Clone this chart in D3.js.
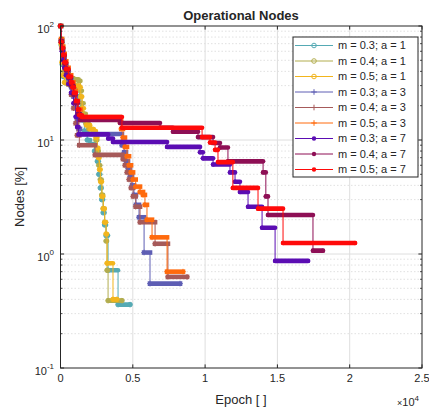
<!DOCTYPE html>
<html>
<head>
<meta charset="utf-8">
<script src="https://cdn.jsdelivr.net/npm/d3@7"></script>
<style>
body { margin: 0; background: #fff; }
text { font-family: "Liberation Sans", Arial, Helvetica, sans-serif; fill: #262626; }
</style>
</head>
<body>
<div id="container"></div>
<script>
let width = 429;
let height = 411;

// step points [epoch, nodes %]; every value holds until the next epoch, last point = end of run
let m03a1 = [[0,100],[50,68],[120,46],[200,36],[300,32],[500,31],[800,30],[1150,29],[1300,24],[1400,19],[1500,15],
    [1650,12],[1850,10],[2050,9.2],[2350,8],[2550,6.5],[2650,5],[2750,3.8],[2850,3],[2950,2.3],[3050,1.8],[3150,1.45],
    [3290,0.72],[3980,0.36],[4810,0.36]];
let m04a1 = [[0,100],[60,72],[140,50],[230,40],[330,36],[600,35],[900,34],[1250,33],[1380,27],[1480,21],[1600,17],
    [1750,14],[1950,12.5],[2250,11.5],[2450,10],[2550,8],[2650,6],[2750,4.5],[2850,3.3],[2950,2.5],[3050,1.9],[3150,1.3],
    [3220,0.72],[3290,0.39],[4250,0.39]];
let m05a1 = [[0,100],[40,70],[100,48],[180,37],[280,32],[500,31],[900,30],[1300,29],[1400,24],[1500,19],[1620,15.5],
    [1800,13.5],[2050,12.5],[2300,12],[2450,10.5],[2550,8.5],[2620,7],[2700,5.5],[2780,4.3],[2870,3.2],[2960,2.5],
    [3060,1.9],[3150,1.5],[3220,0.83],[3630,0.40],[3900,0.40]];
let m03a3 = [[0,100],[40,75],[110,63],[190,54],[290,46],[400,40],[560,34],[740,29],[900,24],[1050,19],[1150,15],
    [1250,12.5],[1350,11.3],[4250,9.0],[4400,7.8],[4530,6.5],[4670,5.6],[4810,4.8],[4950,4.0],[5080,3.3],[5220,2.7],
    [5430,2.1],[5780,1.03],[6190,0.55],[8265,0.55]];
let m04a3 = [[0,100],[40,74],[110,62],[190,52],[290,44],[400,38],[560,31],[740,25],[900,19],[1050,14],[1150,11],
    [1300,9.0],[2390,7.4],[4320,6.8],[4460,6.0],[4600,5.2],[4740,4.5],[4880,3.8],[5020,3.2],[5200,2.6],[5500,1.9],
    [6540,1.23],[7430,0.63],[8750,0.63]];
let m05a3 = [[0,100],[40,77],[110,66],[190,57],[290,49],[400,43],[560,37],[740,32],[900,27],[1050,22],[1200,18.5],
    [1400,15.9],[4115,14.5],[4200,12.5],[4320,10.5],[4460,8.7],[4600,7.2],[4740,6.0],[4880,5.2],[5020,4.5],[5200,3.9],
    [5500,3.5],[5710,3.3],[5840,2.7],[5980,2.0],[6330,1.4],[7370,0.70],[8470,0.70]];
let m03a7 = [[0,100],[35,72],[100,60],[170,50],[270,43],[380,37],[550,31],[730,26],[900,21],[1050,16],[1150,13],
    [1250,11.2],[3300,10.3],[3630,9.6],[7370,8.7],[9650,7.8],[9850,6.9],[10550,6.1],[11720,5.2],[12070,4.3],
    [12410,3.5],[12970,2.6],[13940,1.7],[14840,0.87],[17120,0.87]];
let m04a7 = [[0,100],[35,74],[100,64],[175,55],[280,47],[380,41],[550,35],[730,30],[900,25],[1050,21],[1200,17],
    [1350,15.0],[4115,14.1],[6880,12.8],[7780,11.8],[9510,10.6],[10550,9.4],[11030,8.6],[11580,6.5],[14010,5.2],
    [14200,3.2],[14350,2.2],[17460,1.07],[18150,1.07]];
let m05a7 = [[0,100],[35,72],[100,64],[173,56],[280,48],[380,42],[550,36],[726,32],[830,29],[934,26],[1070,22],
    [1210,18.5],[1300,16.5],[1490,15.9],[4250,12.8],[9790,10.6],[10340,9.5],[10690,8.2],[10890,6.4],[11920,3.8],
    [13660,2.5],[15390,1.25],[20370,1.25]];

let labels = ['m = 0.3; a = 1', 'm = 0.4; a = 1', 'm = 0.5; a = 1',
    'm = 0.3; a = 3', 'm = 0.4; a = 3', 'm = 0.5; a = 3',
    'm = 0.3; a = 7', 'm = 0.4; a = 7', 'm = 0.5; a = 7'];
let colors = ['#55aab4', '#b2ad4e', '#f2b51d', '#5e5eb4', '#a65a5a', '#ff6a0d', '#5b0db3', '#8e0f55', '#ff0a0a'];
let markers = ['o', 'o', 'o', '+', '+', '+', '.', '.', '.'];
let values = [m03a1, m04a1, m05a1, m03a3, m04a3, m05a3, m03a7, m04a7, m05a7];

let xTicks = [0, 5000, 10000, 15000, 20000, 25000];
let xTickLabels = ['0', '0.5', '1', '1.5', '2', '2.5'];
let yTicks = [0.1, 1, 10, 100];
let yTickExp = ['-1', '0', '1', '2'];

let series = values.map((v, i) => ({ values: v, label: labels[i], color: colors[i], marker: markers[i] }));

let svg = d3.select('#container')
    .append('svg')
    .attr('width', width)
    .attr('height', height);

let x = d3.scaleLinear().domain([0, 25000]).range([60.5, 422]);
let y = d3.scaleLog().domain([0.1, 100]).range([368, 26]);

// grid
let minor = y.ticks().filter(t => yTicks.indexOf(t) < 0);
svg.selectAll('.minorGrid')
    .data(minor)
    .enter()
    .append('line')
    .attr('x1', x(0)).attr('x2', x(25000))
    .attr('y1', d => y(d)).attr('y2', d => y(d))
    .attr('stroke', '#d9d9d9')
    .attr('stroke-width', 0.8)
    .attr('stroke-dasharray', '1.5,2');

svg.selectAll('.yGrid')
    .data(yTicks.slice(1, 3))
    .enter()
    .append('line')
    .attr('x1', x(0)).attr('x2', x(25000))
    .attr('y1', d => y(d)).attr('y2', d => y(d))
    .attr('stroke', '#dedede');

svg.selectAll('.xGrid')
    .data(xTicks.slice(1, 5))
    .enter()
    .append('line')
    .attr('x1', d => x(d)).attr('x2', d => x(d))
    .attr('y1', y(0.1)).attr('y2', y(100))
    .attr('stroke', '#dedede');

function drawMarker(g, type, color, px, py) {
    if (type == 'o') {
        g.append('circle').attr('cx', px).attr('cy', py).attr('r', 2.3)
            .attr('fill', 'none').attr('stroke', color).attr('stroke-width', 1);
    } else if (type == '+') {
        g.append('path').attr('d', `M${px - 2.8},${py}H${px + 2.8}M${px},${py - 2.8}V${py + 2.8}`)
            .attr('stroke', color).attr('stroke-width', 1);
    } else {
        g.append('circle').attr('cx', px).attr('cy', py).attr('r', 2.2).attr('fill', color);
    }
}

let line = d3.line()
    .x(d => x(d[0]))
    .y(d => y(d[1]))
    .curve(d3.curveStepAfter);

series.forEach(s => {
    let g = svg.append('g');
    g.append('path')
        .datum(s.values)
        .attr('d', line)
        .attr('fill', 'none')
        .attr('stroke', s.color)
        .attr('stroke-width', 1);

    // markers at every epoch pile up into a thick band along each plateau
    g.selectAll('.band')
        .data(d3.pairs(s.values))
        .enter()
        .append('line')
        .attr('x1', d => x(d[0][0]))
        .attr('x2', d => x(d[1][0]))
        .attr('y1', d => y(d[0][1]))
        .attr('y2', d => y(d[0][1]))
        .attr('stroke', s.color)
        .attr('stroke-width', 4.6)
        .attr('stroke-linecap', s.marker == '+' ? 'square' : 'round');

    s.values.forEach(d => drawMarker(g, s.marker, s.color, x(d[0]), y(d[1])));
});

// box and ticks
svg.append('rect')
    .attr('x', x(0)).attr('y', y(100))
    .attr('width', x(25000) - x(0)).attr('height', y(0.1) - y(100))
    .attr('fill', 'none')
    .attr('stroke', '#262626')
    .attr('stroke-width', 1);

svg.selectAll('.xTick')
    .data(xTicks)
    .enter()
    .append('path')
    .attr('d', d => `M${x(d)},${y(0.1)}v-3.6M${x(d)},${y(100)}v3.6`)
    .attr('stroke', '#262626');

svg.selectAll('.yTick')
    .data(yTicks)
    .enter()
    .append('path')
    .attr('d', d => `M${x(0)},${y(d)}h3.6M${x(25000)},${y(d)}h-3.6`)
    .attr('stroke', '#262626');

svg.selectAll('.yMinorTick')
    .data(minor)
    .enter()
    .append('path')
    .attr('d', d => `M${x(0)},${y(d)}h2M${x(25000)},${y(d)}h-2`)
    .attr('stroke', '#262626')
    .attr('stroke-width', 0.8);

// tick labels
svg.selectAll('.xLabel')
    .data(xTicks)
    .enter()
    .append('text')
    .attr('x', d => x(d))
    .attr('y', 382)
    .attr('text-anchor', 'middle')
    .attr('font-size', 11)
    .text((d, i) => xTickLabels[i]);

let yLab = svg.selectAll('.yLabel')
    .data(yTicks)
    .enter()
    .append('text')
    .attr('x', 54)
    .attr('y', d => y(d) + 6.5)
    .attr('text-anchor', 'end')
    .attr('font-size', 11);
yLab.append('tspan').text('10');
yLab.append('tspan').attr('dy', -5.5).attr('font-size', 8).text((d, i) => yTickExp[i]);

let mult = svg.append('text')
    .attr('x', 419)
    .attr('y', 406)
    .attr('text-anchor', 'end')
    .attr('font-size', 11);
mult.append('tspan').attr('font-size', 9).text('\u00d7');
mult.append('tspan').text('10');
mult.append('tspan').attr('dy', -5.5).attr('font-size', 8).text('4');

// titles
svg.append('text')
    .attr('x', 241)
    .attr('y', 20)
    .attr('text-anchor', 'middle')
    .attr('font-size', 13)
    .attr('font-weight', 'bold')
    .attr('fill', '#000')
    .text('Operational Nodes');

svg.append('text')
    .attr('x', 241)
    .attr('y', 404)
    .attr('text-anchor', 'middle')
    .attr('font-size', 13)
    .text('Epoch [ ]');

svg.append('text')
    .attr('transform', 'translate(24,197) rotate(-90)')
    .attr('text-anchor', 'middle')
    .attr('font-size', 13)
    .text('Nodes [%]');

// legend
let legend = svg.append('g');
legend.append('rect')
    .attr('x', 293).attr('y', 37)
    .attr('width', 125).attr('height', 140)
    .attr('fill', '#fff')
    .attr('stroke', '#262626')
    .attr('stroke-width', 1);

series.forEach((s, i) => {
    let ly = 45.5 + i * 15.5;
    legend.append('line')
        .attr('x1', 295).attr('x2', 333)
        .attr('y1', ly).attr('y2', ly)
        .attr('stroke', s.color)
        .attr('stroke-width', 1);
    drawMarker(legend, s.marker, s.color, 314, ly);
    legend.append('text')
        .attr('x', 338)
        .attr('y', ly)
        .attr('dy', '0.35em')
        .attr('font-size', 11)
        .attr('fill', '#000')
        .text(s.label);
});
</script>
</body>
</html>
